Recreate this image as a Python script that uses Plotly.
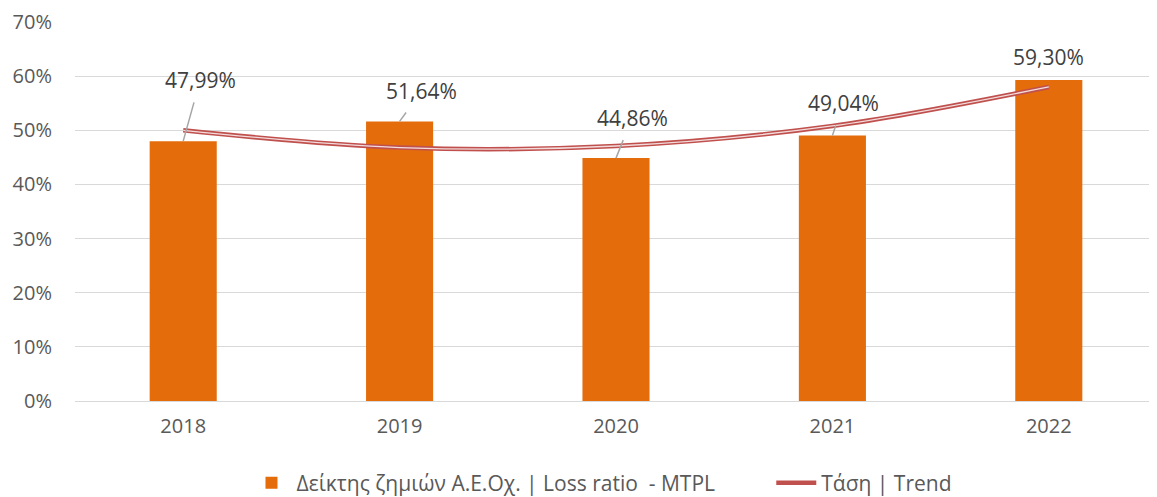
import plotly.graph_objects as go

years = ["2018", "2019", "2020", "2021", "2022"]
loss_ratio = [47.99, 51.64, 44.86, 49.04, 59.30]
labels = ["47,99%", "51,64%", "44,86%", "49,04%", "59,30%"]
trend = [50.0, 46.8, 47.1, 50.8, 58.0]
label_dx = [17, 22, 16, 11, 0]
label_dy = [-61, -30, -40, -32, -23]
y_ticks = [0, 10, 20, 30, 40, 50, 60, 70]
y_tick_text = ["0%", "10%", "20%", "30%", "40%", "50%", "60%", "70%"]

font_family = "Open Sans, DejaVu Sans, sans-serif"

fig = go.Figure()
fig.add_trace(go.Bar(
    x=years, y=loss_ratio,
    name="Δείκτης ζημιών Α.Ε.Οχ. | Loss ratio  - MTPL",
    marker=dict(color="#E46C0A", line=dict(width=0)),
    width=0.31, legend="legend",
))
fig.add_trace(go.Scatter(
    x=years, y=trend, mode="lines", name="Τάση | Trend",
    line=dict(color="#C0504D", width=4.5, shape="spline", smoothing=1.0),
    legendgroup="trend", legend="legend2",
))
fig.add_trace(go.Scatter(
    x=years, y=trend, mode="lines", name="Τάση | Trend",
    line=dict(color="#F2DCDB", width=1.3, shape="spline", smoothing=1.0),
    legendgroup="trend", showlegend=False, hoverinfo="skip", legend="legend2",
))

for i, (v, t, dx, dy) in enumerate(zip(loss_ratio, labels, label_dx, label_dy)):
    fig.add_annotation(
        x=i, y=v, xref="x", yref="y", text=t,
        showarrow=(dx != 0),
        ax=dx, ay=dy, arrowhead=0, arrowwidth=1.5, arrowcolor="#A6A6A6",
        standoff=0, startstandoff=7,
        yshift=0 if dx != 0 else 23,
        font=dict(family=font_family, size=21, color="#404040"),
    )

legend_common = dict(
    orientation="h", xanchor="left", yanchor="middle",
    yref="container", y=0.0286,
    font=dict(family=font_family, size=21, color="#595959"),
    itemwidth=40, tracegroupgap=0, bgcolor="rgba(0,0,0,0)",
)

fig.update_layout(
    width=1149, height=489,
    margin=dict(l=67, r=0, t=14, b=96),
    plot_bgcolor="white", paper_bgcolor="white",
    bargap=0.69,
    font=dict(family=font_family, size=20, color="#595959"),
    showlegend=True,
    legend=dict(x=0.1585, **legend_common),
    legend2=dict(x=0.6435, **legend_common),
    xaxis=dict(
        type="category", range=[-0.5, 4.5], showgrid=False, showline=False, ticks="",
        tickfont=dict(size=20, color="#595959"), ticklabelstandoff=11,
        automargin=False,
    ),
    yaxis=dict(
        range=[0, 70], tickvals=y_ticks, ticktext=y_tick_text,
        showgrid=True, gridcolor="#D9D9D9", gridwidth=1,
        zeroline=True, zerolinecolor="#D9D9D9", zerolinewidth=1,
        showline=False, ticks="", ticklabelstandoff=22,
        tickfont=dict(size=20, color="#595959"), automargin=False,
    ),
)

fig.write_html("out.html")
